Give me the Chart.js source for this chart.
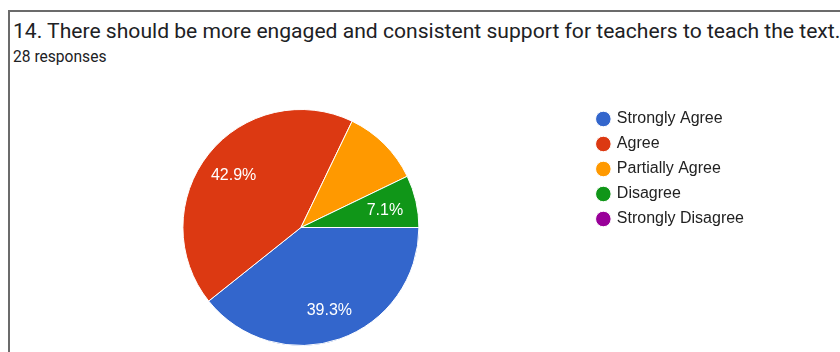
<!DOCTYPE html>
<html>
<head>
<meta charset="utf-8">
<script src="https://cdn.jsdelivr.net/npm/chart.js@4.4.1/dist/chart.umd.min.js"></script>
<style>
  html, body { margin: 0; padding: 0; width: 840px; height: 352px; overflow: hidden; background: #fff; }
  .card { position: absolute; left: 8px; top: 10px; width: 900px; height: 400px;
          border-top: 2px solid #6b6b6b; border-left: 2px solid #6b6b6b; }
  .title { position: absolute; left: 13px; top: 18px; font: 21.1px Roboto, sans-serif; color: #202124; white-space: nowrap; }
  .sub { position: absolute; left: 13px; top: 48px; font: 15.6px Roboto, sans-serif; color: #202124; white-space: nowrap; }
  #wrap { position: absolute; left: 0; top: 0; width: 840px; height: 360px; }
</style>
</head>
<body>
<div class="card"></div>
<div class="title">14. There should be more engaged and consistent support for teachers to teach the text.</div>
<div class="sub">28 responses</div>
<div id="wrap"><canvas id="chart"></canvas></div>
<script>
// data
const labels = ['Strongly Agree', 'Agree', 'Partially Agree', 'Disagree', 'Strongly Disagree'];
const counts = [11, 12, 3, 2, 0];
const colors = ['#3366cc', '#dc3912', '#ff9900', '#109618', '#990099'];
const total = counts.reduce((a, b) => a + b, 0);

// percent labels inside slices (google hides the small ones)
const sliceLabels = {
  id: 'sliceLabels',
  afterDatasetsDraw(chart) {
    const { ctx } = chart;
    const meta = chart.getDatasetMeta(0);
    ctx.save();
    ctx.font = '16px "Liberation Sans", Arial, sans-serif';
    ctx.fillStyle = '#fff';
    ctx.textAlign = 'center';
    ctx.textBaseline = 'middle';
    meta.data.forEach((arc, i) => {
      const pct = counts[i] / total * 100;
      if (pct < 7 || i === 2) return;
      const { x, y, startAngle, endAngle, outerRadius } = arc.getProps(['x', 'y', 'startAngle', 'endAngle', 'outerRadius'], true);
      const mid = (startAngle + endAngle) / 2;
      const r = outerRadius * 0.73;
      ctx.fillText(pct.toFixed(1) + '%', x + Math.cos(mid) * r, y + Math.sin(mid) * r + 2);
    });
    ctx.restore();
  }
};

new Chart(document.getElementById('chart'), {
  type: 'pie',
  data: {
    labels,
    datasets: [{ data: counts, backgroundColor: colors, borderColor: '#fff', borderWidth: 1, radius: 118 }]
  },
  options: {
    responsive: true,
    maintainAspectRatio: false,
    animation: false,
    rotation: 90,
    layout: { padding: { left: 13, right: 86, top: 102, bottom: 7 } },
    plugins: {
      tooltip: { enabled: false },
      legend: {
        position: 'right',
        align: 'start',
        labels: {
          usePointStyle: true,
          pointStyle: 'circle',
          boxWidth: 11,
          boxHeight: 11,
          padding: 9,
          color: '#222',
          font: { size: 16, family: '"Liberation Sans", Arial, sans-serif' }
        }
      }
    }
  },
  plugins: [sliceLabels]
});
</script>
</body>
</html>
